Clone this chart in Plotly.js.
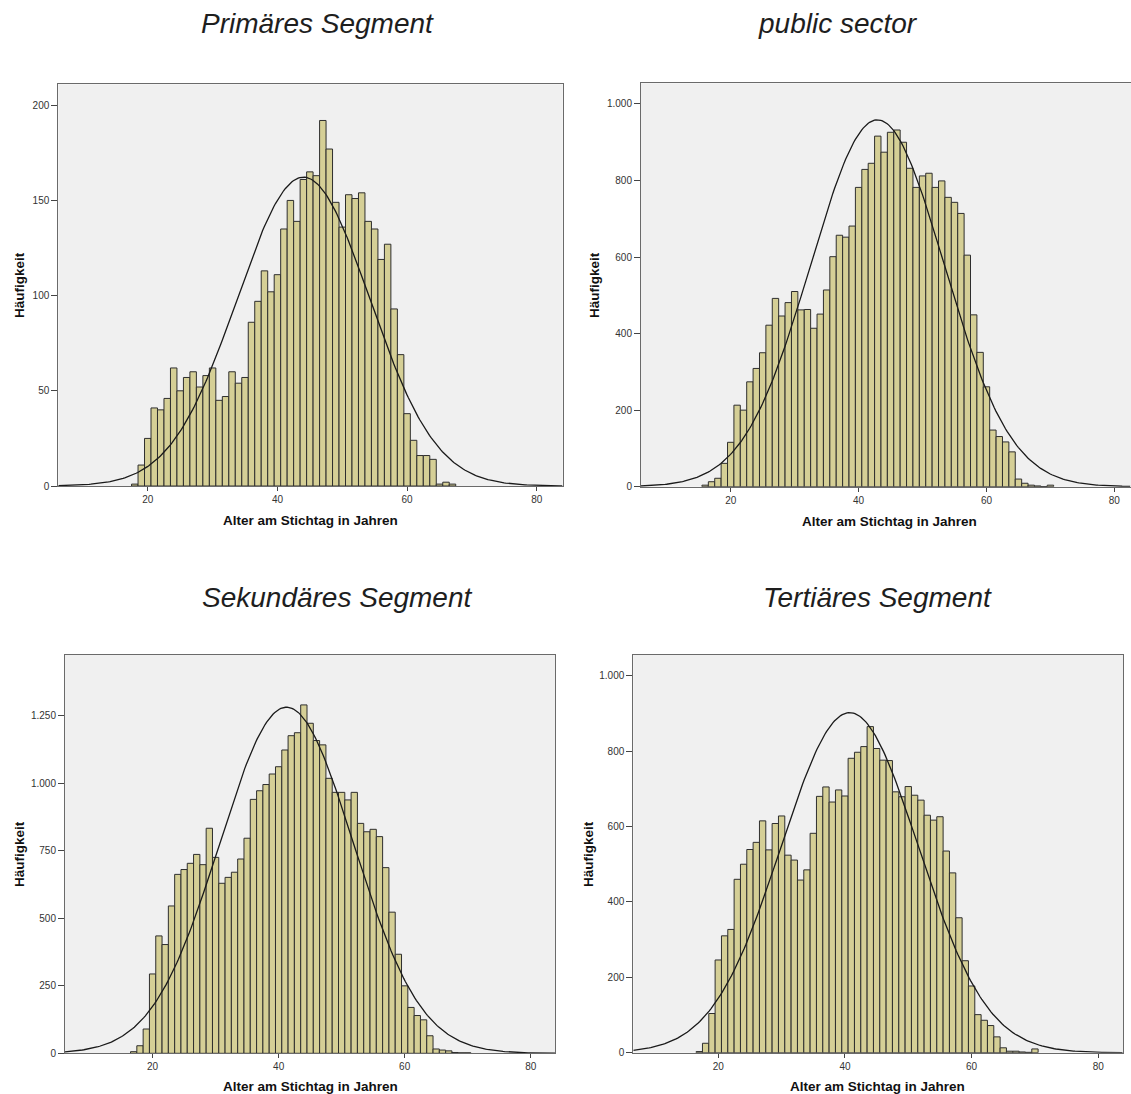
<!DOCTYPE html>
<html><head><meta charset="utf-8">
<script src="https://cdn.plot.ly/plotly-3.0.1.min.js"></script>
<style>html,body{margin:0;padding:0;background:#fff}#chart{width:1131px;height:1094px}</style>
</head><body><div id="chart"></div>
<script>
// ---- Data ----
const panelTitles = ["Primäres Segment", "public sector", "Sekundäres Segment", "Tertiäres Segment"];
const xAxisTitle = "Alter am Stichtag in Jahren";
const yAxisTitle = "Häufigkeit";
const xTickVals = [20, 40, 60, 80];

const ages1 = [18,19,20,21,22,23,24,25,26,27,28,29,30,31,32,33,34,35,36,37,38,39,40,41,42,43,44,45,46,47,48,49,50,51,52,53,54,55,56,57,58,59,60,61,62,63,64,65,66,67];
const counts1 = [1,11,25,41,40,46,62,50,57,60,52,58,62,45,47,60,54,57,86,97,113,102,111,135,150,139,161,165,163,192,177,149,136,153,151,154,139,135,119,127,93,69,38,24,16,16,14,1,2,1];

const ages2 = [16,17,18,19,20,21,22,23,24,25,26,27,28,29,30,31,32,33,34,35,36,37,38,39,40,41,42,43,44,45,46,47,48,49,50,51,52,53,54,55,56,57,58,59,60,61,62,63,64,65,66,67,68,69,70];
const counts2 = [4,13,22,61,116,213,200,274,309,350,422,492,446,481,510,462,463,414,451,514,601,657,652,681,782,829,845,916,874,926,932,900,832,782,812,819,782,799,756,743,714,605,449,351,261,148,131,117,91,20,9,4,2,0,4];

const ages3 = [17,18,19,20,21,22,23,24,25,26,27,28,29,30,31,32,33,34,35,36,37,38,39,40,41,42,43,44,45,46,47,48,49,50,51,52,53,54,55,56,57,58,59,60,61,62,63,64,65,66,67,68,69,70];
const counts3 = [6,28,90,294,435,403,546,663,681,704,737,699,834,726,630,652,671,720,797,941,973,996,1035,1062,1124,1177,1188,1291,1223,1159,1143,1019,967,967,939,967,852,821,830,803,688,523,367,250,170,140,124,65,16,12,9,3,2,2];

const ages4 = [17,18,19,20,21,22,23,24,25,26,27,28,29,30,31,32,33,34,35,36,37,38,39,40,41,42,43,44,45,46,47,48,49,50,51,52,53,54,55,56,57,58,59,60,61,62,63,64,65,66,67,68,69,70];
const counts4 = [3,25,104,246,310,327,460,500,539,558,615,538,608,628,524,511,458,485,582,680,705,665,697,681,781,797,812,865,807,776,775,692,679,706,683,670,630,617,626,535,477,358,244,177,101,86,72,42,13,4,4,2,1,10];

// ---- Layout geometry (pixels) ----
const W = 1131, H = 1094;
const panels = [
  {ages: ages1, counts: counts1, xpx: [58.3, 562.7], ypx: [84.3, 486], xr: [6.2, 84.0], yr: [0, 211], dtick: 50,
   title: [317.5, 24], xt: [310.5, 520.5], yt: [19, 285]},
  {ages: ages2, counts: counts2, xpx: [641, 1131], ypx: [83.3, 486.7], xr: [5.97, 82.6], yr: [0, 1054], dtick: 200,
   title: [838, 24], xt: [889, 521], yt: [594, 285]},
  {ages: ages3, counts: counts3, xpx: [65, 555.3], ypx: [655, 1053.3], xr: [6.1, 83.9], yr: [0, 1476], dtick: 250,
   title: [337.5, 597], xt: [310, 1086], yt: [19, 854]},
  {ages: ages4, counts: counts4, xpx: [633.3, 1123.3], ypx: [655, 1052.7], xr: [6.58, 83.95], yr: [0, 1055], dtick: 200,
   title: [877.5, 597], xt: [878, 1086], yt: [588, 854]}
];

const barColor = '#d5cf96';
const traces = [];
const layout = {
  width: W, height: H,
  margin: {l: 0, r: 0, t: 0, b: 0},
  paper_bgcolor: '#ffffff',
  plot_bgcolor: '#f0f0f0',
  showlegend: false,
  bargap: 0,
  separators: ',.',
  font: {family: 'Liberation Sans, Arial, sans-serif', color: '#222'},
  annotations: []
};

panels.forEach((p, i) => {
  const n = i + 1;
  const xa = 'x' + (n === 1 ? '' : n), ya = 'y' + (n === 1 ? '' : n);
  traces.push({
    type: 'bar', x: p.ages, y: p.counts, width: 1, xaxis: xa, yaxis: ya,
    marker: {color: barColor, line: {color: '#2e2e2e', width: 1}},
    hoverinfo: 'skip'
  });
  // fitted normal curve from the data (mean, sd, N)
  let N = 0, s = 0;
  p.ages.forEach((a, k) => { N += p.counts[k]; s += a * p.counts[k]; });
  const mean = s / N;
  let v = 0;
  p.ages.forEach((a, k) => { v += p.counts[k] * (a - mean) * (a - mean); });
  const sd = Math.sqrt(v / (N - 1));
  const cx = [], cy = [];
  for (let t = p.xr[0]; t <= p.xr[1] + 0.001; t += 0.25) {
    cx.push(t);
    cy.push(N / (sd * Math.sqrt(2 * Math.PI)) * Math.exp(-0.5 * Math.pow((t - mean) / sd, 2)));
  }
  traces.push({type: 'scatter', mode: 'lines', x: cx, y: cy, xaxis: xa, yaxis: ya,
    line: {color: '#1a1a1a', width: 1.3}, hoverinfo: 'skip'});

  const xkey = 'xaxis' + (n === 1 ? '' : n), ykey = 'yaxis' + (n === 1 ? '' : n);
  layout[xkey] = {
    domain: [p.xpx[0] / W, p.xpx[1] / W], range: p.xr, anchor: ya,
    tickvals: xTickVals, ticks: 'outside', ticklen: 4, tickwidth: 1, tickcolor: '#444',
    tickfont: {size: 10, color: '#333'},
    showgrid: false, zeroline: false, showline: true, mirror: true, linecolor: '#6a6a6a', linewidth: 1,
    fixedrange: true
  };
  layout[ykey] = {
    domain: [1 - p.ypx[1] / H, 1 - p.ypx[0] / H], range: p.yr, anchor: xa,
    tick0: 0, dtick: p.dtick, separatethousands: true,
    ticks: 'outside', ticklen: 6, tickwidth: 1, tickcolor: '#444',
    tickfont: {size: 10, color: '#333'},
    showgrid: false, zeroline: false, showline: true, mirror: true, linecolor: '#6a6a6a', linewidth: 1,
    fixedrange: true
  };
  layout.annotations.push({
    text: panelTitles[i], xref: 'paper', yref: 'paper', x: p.title[0] / W, y: 1 - p.title[1] / H,
    xanchor: 'center', yanchor: 'middle', showarrow: false,
    font: {size: 28, color: '#1e1e1e', family: 'Liberation Sans, Arial, sans-serif', style: 'italic'}
  });
  layout.annotations.push({
    text: '<b>' + xAxisTitle + '</b>', xref: 'paper', yref: 'paper', x: p.xt[0] / W, y: 1 - p.xt[1] / H,
    xanchor: 'center', yanchor: 'middle', showarrow: false,
    font: {size: 13.5, color: '#111'}
  });
  layout.annotations.push({
    text: '<b>' + yAxisTitle + '</b>', xref: 'paper', yref: 'paper', x: p.yt[0] / W, y: 1 - p.yt[1] / H,
    xanchor: 'center', yanchor: 'middle', showarrow: false, textangle: -90,
    font: {size: 13.5, color: '#111'}
  });
});

Plotly.newPlot('chart', traces, layout, {staticPlot: true, displayModeBar: false});
</script>
</body></html>
